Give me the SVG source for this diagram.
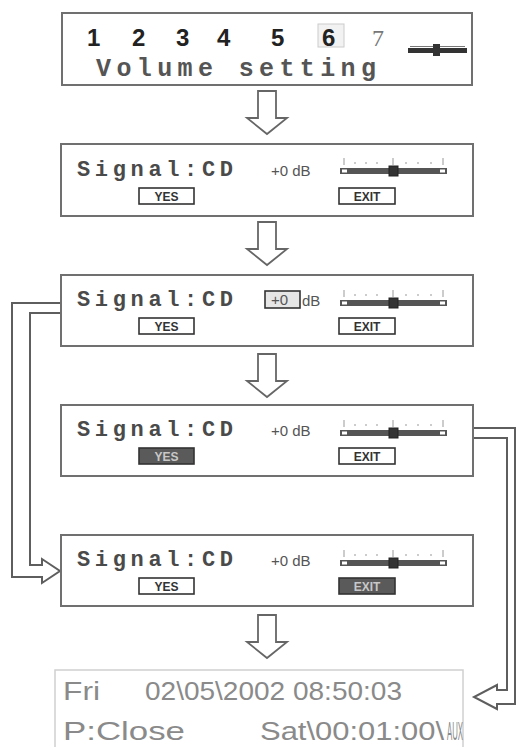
<svg xmlns="http://www.w3.org/2000/svg" width="516" height="747" viewBox="0 0 516 747">
<style>
.box{fill:#fff;stroke:#707070;stroke-width:2}
.sig{font-family:"Liberation Mono",monospace;font-weight:bold;font-size:22px;fill:#4a4a4a}
.db{font-family:"Liberation Sans",sans-serif;font-size:15px;fill:#555}
.btn{fill:#fff;stroke:#333;stroke-width:1.6}
.btnOn{fill:#5a5a5a;stroke:#333;stroke-width:1.6}
.bt{font-family:"Liberation Sans",sans-serif;font-weight:bold;font-size:12px;fill:#333;text-anchor:middle}
.btOn{font-family:"Liberation Sans",sans-serif;font-weight:bold;font-size:12px;fill:#c8c8c8;text-anchor:middle}
.arr{fill:#fff;stroke:#666;stroke-width:1.8;stroke-linejoin:miter}
.conn{fill:none;stroke:#5e5e5e;stroke-width:2}
.clk{font-family:"Liberation Sans",sans-serif;font-size:25px;fill:#8a8a8a}
</style>
<defs>
<path id="darr" d="M258,0 H276 V27 H287 L267,43 L247,27 H258 Z"/>
<g id="bar">
<g stroke="#999" stroke-width="1">
<line x1="344" y1="-10" x2="344" y2="-3"/>
<line x1="355" y1="-6" x2="355" y2="-4"/>
<line x1="366" y1="-6" x2="366" y2="-4"/>
<line x1="377" y1="-6" x2="377" y2="-4"/>
<line x1="393" y1="-10" x2="393" y2="-3"/>
<line x1="406" y1="-6" x2="406" y2="-4"/>
<line x1="418" y1="-6" x2="418" y2="-4"/>
<line x1="431" y1="-6" x2="431" y2="-4"/>
<line x1="443" y1="-10" x2="443" y2="-3"/>
</g>
<rect x="340" y="0" width="107" height="6" fill="#555"/>
<rect x="342" y="1.5" width="5" height="3" fill="#fff"/>
<rect x="440" y="1.5" width="5" height="3" fill="#fff"/>
<rect x="389" y="-2" width="9" height="10" fill="#333" stroke="#222"/>
</g>
</defs>
<rect width="516" height="747" fill="#fff"/>

<g id="connectors">
<use href="#darr" class="arr" transform="translate(0,91)"/>
<use href="#darr" class="arr" transform="translate(0,222)"/>
<use href="#darr" class="arr" transform="translate(0,354)"/>
<use href="#darr" class="arr" transform="translate(0,615)"/>
<path class="conn" d="M60,303 H12 V577 H42 V583 L60,571 L42,559 V565 H30 V313 H60"/>
<path class="conn" d="M473,428 H515 V704 H497 V709 L474,697 L497,685 V690 H507 V438 H473"/>
</g>

<g id="volume">
<rect class="box" x="62" y="13" width="410" height="72"/>
<rect x="318" y="24" width="26" height="23" fill="#f2f2f2" stroke="#ccc"/>
<text x="87 132 176 217 271 322" y="46" font-family="Liberation Sans,sans-serif" font-weight="bold" font-size="24" fill="#222">123456</text>
<text x="372" y="46" font-family="Liberation Serif,serif" font-size="24" fill="#777">7</text>
<line x1="410" y1="46.5" x2="465" y2="46.5" stroke="#777" stroke-width="1"/>
<rect x="408" y="48" width="59" height="5" fill="#333"/>
<rect x="433" y="44" width="7" height="12" fill="#333"/>
<text x="96" y="76" font-family="Liberation Mono,monospace" font-weight="bold" font-size="25" fill="#555" textLength="280" lengthAdjust="spacing">Volume setting</text>
</g>

<g id="screen1">
<rect class="box" x="61" y="144" width="412" height="72"/>
<text class="sig" x="77" y="176" textLength="156" lengthAdjust="spacing">Signal:CD</text>
<text class="db" x="271" y="176">+0 dB</text>
<use href="#bar" transform="translate(0,168)"/>
<rect class="btn" x="139" y="188" width="55" height="16"/>
<text class="bt" x="166.5" y="201">YES</text>
<rect class="btn" x="339" y="188" width="56" height="16"/>
<text class="bt" x="367" y="201">EXIT</text>
</g>

<g id="screen2">
<rect class="box" x="61" y="275" width="412" height="71"/>
<text class="sig" x="77" y="306" textLength="156" lengthAdjust="spacing">Signal:CD</text>
<rect x="265" y="291" width="35" height="17" fill="#e6e6e6" stroke="#333" stroke-width="1.6"/>
<text class="db" x="271" y="305">+0</text>
<text class="db" x="302" y="306">dB</text>
<use href="#bar" transform="translate(0,300)"/>
<rect class="btn" x="139" y="318" width="55" height="16"/>
<text class="bt" x="166.5" y="331">YES</text>
<rect class="btn" x="339" y="318" width="56" height="16"/>
<text class="bt" x="367" y="331">EXIT</text>
</g>

<g id="screen3">
<rect class="box" x="61" y="405" width="412" height="71"/>
<text class="sig" x="77" y="436" textLength="156" lengthAdjust="spacing">Signal:CD</text>
<text class="db" x="271" y="436">+0 dB</text>
<use href="#bar" transform="translate(0,430)"/>
<rect class="btnOn" x="139" y="448" width="55" height="16"/>
<text class="btOn" x="166.5" y="461">YES</text>
<rect class="btn" x="339" y="448" width="56" height="16"/>
<text class="bt" x="367" y="461">EXIT</text>
</g>

<g id="screen4">
<rect class="box" x="61" y="535" width="412" height="71"/>
<text class="sig" x="77" y="566" textLength="156" lengthAdjust="spacing">Signal:CD</text>
<text class="db" x="271" y="566">+0 dB</text>
<use href="#bar" transform="translate(0,560)"/>
<rect class="btn" x="139" y="578" width="55" height="16"/>
<text class="bt" x="166.5" y="591">YES</text>
<rect class="btnOn" x="339" y="578" width="56" height="16"/>
<text class="btOn" x="367" y="591">EXIT</text>
</g>

<g id="clock">
<rect x="55" y="670" width="408" height="90" fill="#fff" stroke="#d0d0d0" stroke-width="1.5"/>
<text class="clk" x="63" y="700" textLength="37" lengthAdjust="spacingAndGlyphs">Fri</text>
<text class="clk" x="145" y="700" textLength="257" lengthAdjust="spacingAndGlyphs">02\05\2002 08:50:03</text>
<text class="clk" x="63" y="740" textLength="122" lengthAdjust="spacingAndGlyphs">P:Close</text>
<text class="clk" x="260" y="740" textLength="184" lengthAdjust="spacingAndGlyphs">Sat\00:01:00\</text>
<text class="clk" x="447" y="740" font-size="11" textLength="16" lengthAdjust="spacingAndGlyphs">AUX</text>
</g>
</svg>
